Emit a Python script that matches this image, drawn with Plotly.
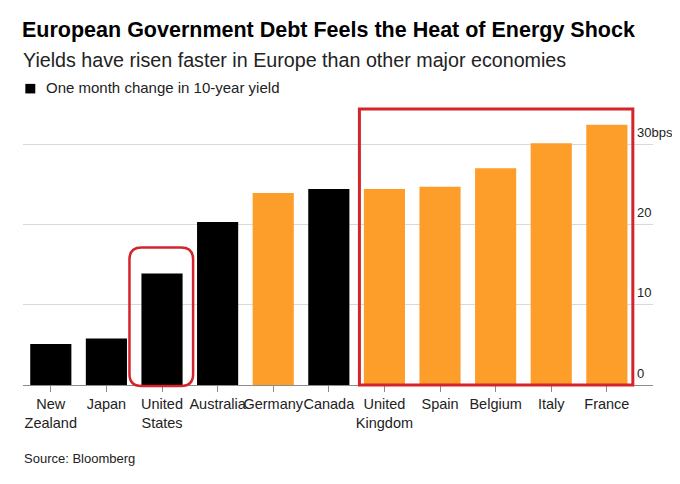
import plotly.graph_objects as go

# one month change in 10-year government bond yield, bps
countries = ["New<br>Zealand", "Japan", "United<br>States", "Australia", "Germany",
             "Canada", "United<br>Kingdom", "Spain", "Belgium", "Italy", "France"]
change_bps = [5.1, 5.8, 13.9, 20.3, 23.9, 24.4, 24.4, 24.7, 27.0, 30.1, 32.4]
region = ["other", "other", "other", "other", "europe",
          "other", "europe", "europe", "europe", "europe", "europe"]

y_ticks = [0, 10, 20, 30]
y_tick_labels = ["0", "10", "20", "30bps"]

colors = {"other": "#000000", "europe": "#fd9e2a"}
red = "#d5232c"
font = "Liberation Sans, Arial, sans-serif"

fig = go.Figure()
fig.add_trace(go.Bar(
    x=list(range(len(countries))),
    y=change_bps,
    marker=dict(color=[colors[r] for r in region], line=dict(width=0)),
    name="One month change in 10-year yield",
    showlegend=False,
))

# red highlight boxes (paper coords)
fig.add_shape(type="rect", xref="paper", yref="paper",
              x0=0.534, x1=0.968, y0=0.0, y1=1.011,
              line=dict(color=red, width=3), layer="above")

x0, x1, y0, y1 = 0.169, 0.270, -0.004, 0.504
rx, ry = 0.019, 0.044
path = (f"M{x0+rx},{y0} L{x1-rx},{y0} Q{x1},{y0} {x1},{y0+ry} "
        f"L{x1},{y1-ry} Q{x1},{y1} {x1-rx},{y1} "
        f"L{x0+rx},{y1} Q{x0},{y1} {x0},{y1-ry} "
        f"L{x0},{y0+ry} Q{x0},{y0} {x0+rx},{y0} Z")
fig.add_shape(type="path", xref="paper", yref="paper", path=path,
              line=dict(color=red, width=2.5), layer="above")

# legend key
fig.add_shape(type="rect", xref="paper", yref="paper",
              x0=0.0037, x1=0.0195, y0=1.068, y1=1.103,
              fillcolor="#000000", line=dict(width=0))
fig.add_annotation(text="One month change in 10-year yield",
                   xref="paper", yref="paper", x=0.0327, y=1.090,
                   xanchor="left", yanchor="middle", showarrow=False,
                   font=dict(family=font, size=15, color="#222222"))

fig.add_annotation(text="Yields have risen faster in Europe than other major economies",
                   xref="paper", yref="paper", x=-0.003, y=1.190,
                   xanchor="left", yanchor="middle", showarrow=False,
                   font=dict(family=font, size=19.7, color="#222222"))
fig.add_annotation(text="Source: Bloomberg",
                   xref="paper", yref="paper", x=-0.002, y=-0.271,
                   xanchor="left", yanchor="middle", showarrow=False,
                   font=dict(family=font, size=13, color="#222222"))

# page body has an 8px margin: keep the figure inside the window, offset by -8px
fig.update_layout(
    width=664, height=468,
    margin=dict(l=14.7, r=19, t=104, b=91),
    paper_bgcolor="white", plot_bgcolor="white",
    font=dict(family=font, color="#222222"),
    title=dict(text="<b>European Government Debt Feels the Heat of Energy Shock</b>",
               x=14 / 664, xanchor="left", y=1 - 21 / 468, yanchor="middle",
               font=dict(family=font, size=21.5, color="#000000")),
    bargap=0.26,
    xaxis=dict(
        tickmode="array", tickvals=list(range(len(countries))), ticktext=countries,
        range=[-0.5, 10.83], showgrid=False, tickangle=0, automargin=False,
        showline=True, linecolor="#8c8c8c", linewidth=1,
        ticks="outside", ticklen=6, tickcolor="#8c8c8c",
        tickfont=dict(family=font, size=14.5, color="#222222"),
        fixedrange=True,
    ),
    yaxis=dict(
        side="right", range=[0, 34.0], automargin=False,
        tickmode="array", tickvals=y_ticks, ticktext=y_tick_labels,
        showgrid=True, gridcolor="#d9d9d9", gridwidth=1,
        zeroline=False, showline=False, ticks="",
        ticklabelposition="outside", ticklabelstandoff=-17, ticklabelshift=-12,
        ticklabeloverflow="allow",
        tickfont=dict(family=font, size=13, color="#222222"),
        fixedrange=True,
    ),
)

fig.write_html("out.html")
